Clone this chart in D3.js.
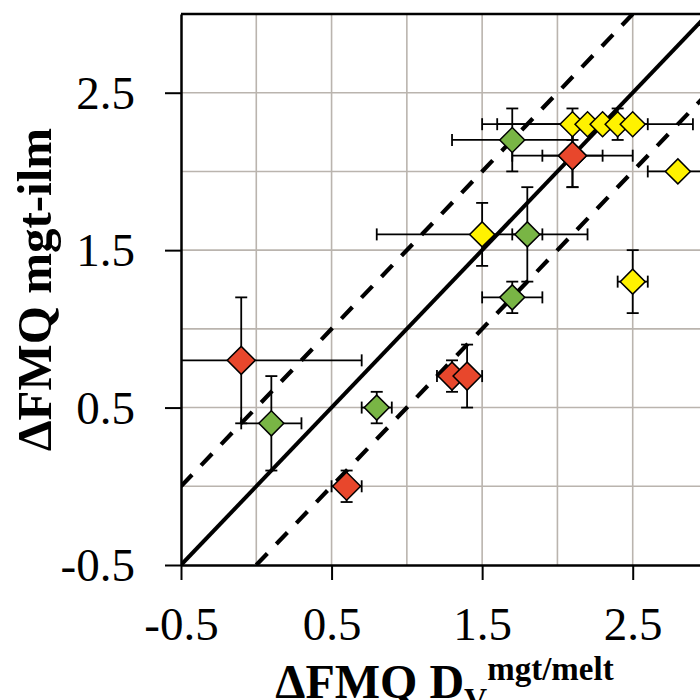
<!DOCTYPE html>
<html><head><meta charset="utf-8">
<script src="https://cdn.jsdelivr.net/npm/d3@7"></script>
<style>html,body{margin:0;padding:0;background:#fff;}</style>
</head><body>
<svg id="chart" width="700" height="700"></svg>
<script>
// ---- data ----
const xTicks = [-0.5, 0.5, 1.5, 2.5];
const yTicks = [-0.5, 0.5, 1.5, 2.5];
const gridValues = [0, 0.5, 1, 1.5, 2, 2.5, 3];
// red series: x, y, xErr, yErr
const redX    = [-0.1, 0.6, 1.3, 1.4, 2.1, 2.1];
const redY    = [0.8, 0.0, 0.7, 0.7, 2.1, 2.1];
const redXErr = [0.8, 0.1, 0.1, 0.1, 0.4, 0.2];
const redYErr = [0.4, 0.1, 0.1, 0.2, 0.2, 0.2];
// green series
const greenX    = [0.1, 0.8, 1.7, 1.8, 1.7];
const greenY    = [0.4, 0.5, 1.2, 1.6, 2.2];
const greenXErr = [0.2, 0.1, 0.2, 0.1, 0.4];
const greenYErr = [0.3, 0.1, 0.1, 0.3, 0.2];
// yellow series
const yellowX    = [1.5, 2.5, 2.8, 2.1, 2.2, 2.3, 2.4, 2.5];
const yellowY    = [1.6, 1.3, 2.0, 2.3, 2.3, 2.3, 2.3, 2.3];
const yellowXErr = [0.7, 0.1, 0.2, 0.5, 0.7, 0, 0, 0];
const yellowYErr = [0.2, 0.2, 0, 0.1, 0, 0, 0.1, 0];
// reference lines: offsets from 1:1
const refOffsets = [0, 0.5, -0.5];
const xDomain = [-0.5, 3.0];
const yDomain = [-0.5, 3.0];

// ---- layout ----
const L = 181, T = 14, R = 708, B = 565;
const svg = d3.select("#chart");
const x = d3.scaleLinear().domain(xDomain).range([L, R]);
const y = d3.scaleLinear().domain(yDomain).range([B, T]);
const fmt = d => d3.format(".1f")(d).replace("\u2212", "-");

svg.append("defs").append("clipPath").attr("id", "clip")
  .append("rect").attr("x", L).attr("y", T).attr("width", R - L).attr("height", B - T);

// grid
const grid = svg.append("g");
grid.selectAll("line.v").data(gridValues).join("line")
  .attr("x1", d => x(d)).attr("x2", d => x(d)).attr("y1", T).attr("y2", B)
  .attr("stroke", "#bab4ae").attr("stroke-width", 1.6);
grid.selectAll("line.h").data(gridValues.filter(d => d < 3)).join("line")
  .attr("class", "h")
  .attr("y1", d => y(d)).attr("y2", d => y(d)).attr("x1", L).attr("x2", R)
  .attr("stroke", "#bab4ae").attr("stroke-width", 1.6);

// top border
svg.append("line").attr("x1", L).attr("x2", R).attr("y1", T).attr("y2", T)
  .attr("stroke", "#000").attr("stroke-width", 2.5);

const plot = svg.append("g").attr("clip-path", "url(#clip)");

// reference lines
refOffsets.forEach(off => {
  const x0 = Math.max(xDomain[0], yDomain[0] - off);
  const x1 = Math.min(xDomain[1], yDomain[1] - off);
  plot.append("line")
    .attr("x1", x(x0)).attr("y1", y(x0 + off))
    .attr("x2", x(x1)).attr("y2", y(x1 + off))
    .attr("stroke", "#000").attr("stroke-width", off === 0 ? 4 : 4.2)
    .attr("stroke-dasharray", off === 0 ? null : "16,13");
});

function series(xs, ys, xe, ye) {
  return xs.map((v, i) => ({x: v, y: ys[i], xe: xe[i], ye: ye[i]}));
}
const seriesList = [
  {data: series(redX, redY, redXErr, redYErr), color: "#e8472c", size: 28},
  {data: series(greenX, greenY, greenXErr, greenYErr), color: "#79b545", size: 25},
  {data: series(yellowX, yellowY, yellowXErr, yellowYErr), color: "#fff200", size: 25}
];

const cap = 6;
const errG = plot.append("g").attr("stroke", "#000").attr("stroke-width", 1.8);
seriesList.forEach(s => {
  s.data.forEach(d => {
    if (d.xe > 0) {
      errG.append("line").attr("x1", x(d.x - d.xe)).attr("x2", x(d.x + d.xe))
        .attr("y1", y(d.y)).attr("y2", y(d.y));
      [d.x - d.xe, d.x + d.xe].forEach(v => errG.append("line")
        .attr("x1", x(v)).attr("x2", x(v)).attr("y1", y(d.y) - cap).attr("y2", y(d.y) + cap));
    }
    if (d.ye > 0) {
      errG.append("line").attr("y1", y(d.y - d.ye)).attr("y2", y(d.y + d.ye))
        .attr("x1", x(d.x)).attr("x2", x(d.x));
      [d.y - d.ye, d.y + d.ye].forEach(v => errG.append("line")
        .attr("y1", y(v)).attr("y2", y(v)).attr("x1", x(d.x) - cap).attr("x2", x(d.x) + cap));
    }
  });
});

seriesList.forEach(s => {
  const side = s.size / Math.SQRT2;
  const sym = d3.symbol().type(d3.symbolSquare).size(side * side);
  plot.append("g").selectAll("path").data(s.data).join("path")
    .attr("d", sym)
    .attr("transform", d => `translate(${x(d.x)},${y(d.y)}) rotate(45)`)
    .attr("fill", s.color).attr("stroke", "#000").attr("stroke-width", 1.5);
});

// axes
const font = "'Liberation Serif','Times New Roman',serif";
const xAxis = svg.append("g").attr("transform", `translate(0,${B})`)
  .call(d3.axisBottom(x).tickValues(xTicks).tickSize(15).tickSizeOuter(0).tickFormat(fmt));
const yAxis = svg.append("g").attr("transform", `translate(${L},0)`)
  .call(d3.axisLeft(y).tickValues(yTicks).tickSize(16).tickSizeOuter(0).tickFormat(fmt));
[xAxis, yAxis].forEach(a => {
  a.select(".domain").attr("stroke", "#000").attr("stroke-width", 2.5);
  a.selectAll(".tick line").attr("stroke", "#000").attr("stroke-width", 2);
  a.selectAll("text").attr("font-family", font).attr("font-size", 47).attr("fill", "#000");
});
xAxis.selectAll("text").attr("y", 75).attr("dy", 0);
yAxis.selectAll("text").attr("x", -46).attr("dy", "0.33em");

// titles
const xt = svg.append("text").attr("x", (L + R) / 2).attr("y", 698)
  .attr("text-anchor", "middle").attr("font-family", font).attr("font-weight", "bold")
  .attr("font-size", 48).attr("fill", "#000");
xt.append("tspan").text("ΔFMQ D");
xt.append("tspan").attr("font-size", 32).attr("dy", 12).text("V");
xt.append("tspan").attr("font-size", 33).attr("dy", -30).text("mgt/melt");

svg.append("text").attr("transform", `translate(51,${(T + B) / 2}) rotate(-90)`)
  .attr("text-anchor", "middle").attr("font-family", font).attr("font-weight", "bold")
  .attr("font-size", 49).attr("fill", "#000").text("ΔFMQ mgt-ilm");
</script>
</body></html>
